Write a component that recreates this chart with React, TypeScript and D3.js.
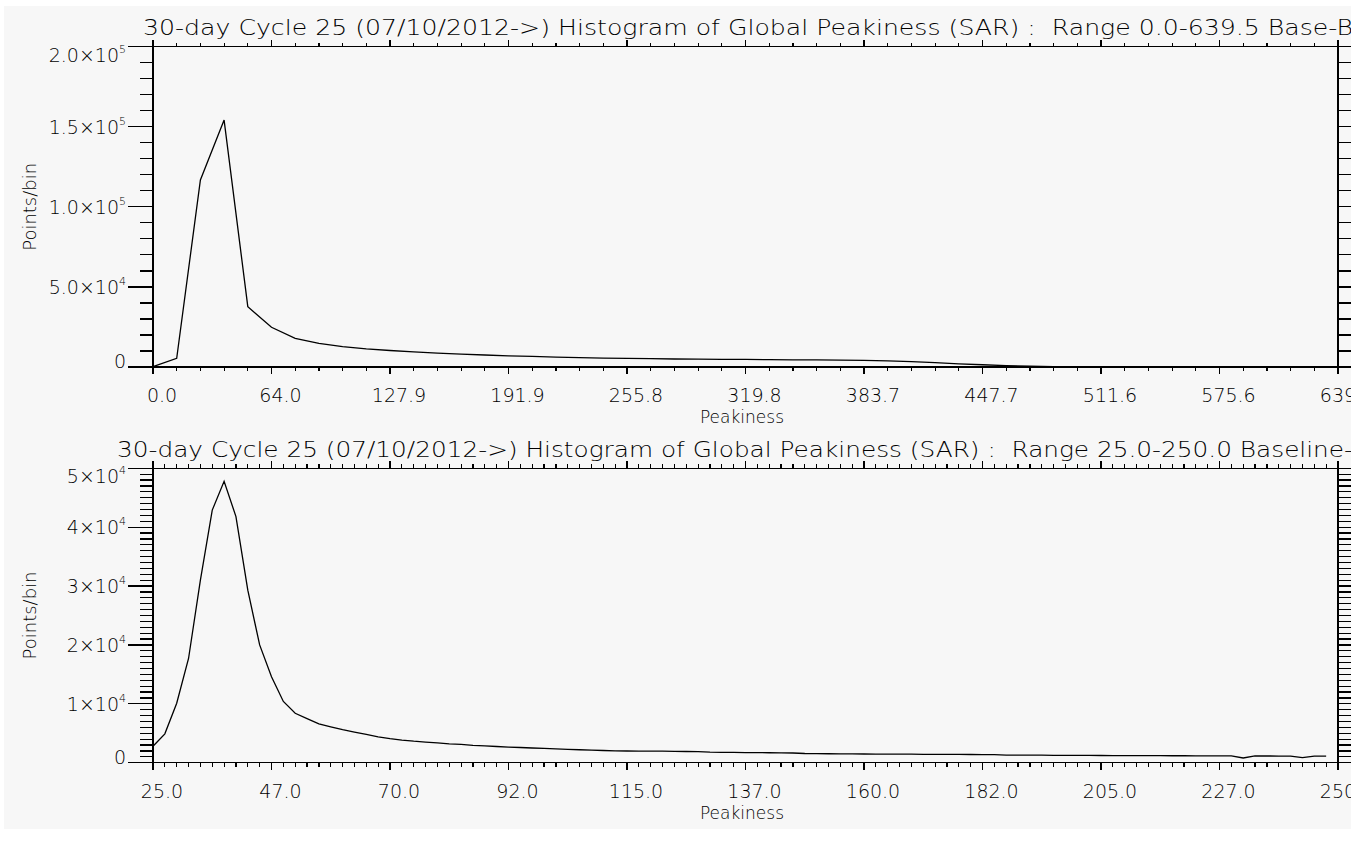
import React from "react";
import * as d3 from "d3";

// ---------- DATA ----------
const titleTop =
  "30-day Cycle 25 (07/10/2012->) Histogram of Global Peakiness (SAR) :  Range 0.0-639.5 Base-B";
const titleBottom =
  "30-day Cycle 25 (07/10/2012->) Histogram of Global Peakiness (SAR) :  Range 25.0-250.0 Baseline-";
const xAxisTitle = "Peakiness";
const yAxisTitle = "Points/bin";

// Top histogram: 0.0 - 639.5, bin width 12.79
const topXMin = 0;
const topXMax = 639.5;
const topBinWidth = 12.79;
const topCounts = [
  300, 5400, 116800, 154200, 37700, 24800, 17900, 14800, 12700, 11300,
  10300, 9500, 8700, 8000, 7500, 7000, 6600, 6200, 5900, 5600,
  5400, 5200, 5000, 4900, 4800, 4700, 4600, 4500, 4400, 4300,
  4100, 3800, 3300, 2700, 2000, 1400, 900, 500, 200, 0,
  0, 0, 0, 0, 0, 0, 0, 0, 0, 0,
];
const topYMax = 200000;
const topXTicks = [0, 63.95, 127.9, 191.85, 255.8, 319.75, 383.7, 447.65, 511.6, 575.55, 639.5];
const topXTickLabels = ["0.0", "64.0", "127.9", "191.9", "255.8", "319.8", "383.7", "447.7", "511.6", "575.6", "639.5"];
const topXMinorStep = 12.79;
const topYTicks = [0, 50000, 100000, 150000, 200000];
const topYTickMantissa = ["0", "5.0×10", "1.0×10", "1.5×10", "2.0×10"];
const topYTickExponent = ["", "4", "5", "5", "5"];
const topYMinorStep = 10000;

// Bottom histogram: 25.0 - 250.0, bin width 2.25
const botXMin = 25;
const botXMax = 250;
const botBinWidth = 2.25;
const botCounts = [
  2800, 4900, 10100, 17700, 31000, 42900, 47800, 41800, 29300, 20000,
  14600, 10400, 8400, 7500, 6600, 6100, 5600, 5200, 4800, 4400,
  4100, 3850, 3650, 3500, 3350, 3200, 3100, 2950, 2850, 2750,
  2650, 2580, 2500, 2430, 2350, 2280, 2200, 2130, 2070, 2020,
  1990, 1980, 1960, 1950, 1930, 1900, 1870, 1780, 1760, 1740,
  1720, 1700, 1690, 1670, 1650, 1560, 1540, 1520, 1500, 1490,
  1480, 1470, 1460, 1450, 1440, 1430, 1420, 1410, 1400, 1390,
  1380, 1370, 1300, 1290, 1280, 1270, 1260, 1250, 1240, 1230,
  1220, 1210, 1200, 1200, 1190, 1190, 1180, 1180, 1170, 1170,
  1160, 1150, 800, 1150, 1140, 1130, 1120, 850, 1110, 1100,
];
const botYMax = 50000;
const botXTicks = [25, 47.5, 70, 92.5, 115, 137.5, 160, 182.5, 205, 227.5, 250];
const botXTickLabels = ["25.0", "47.0", "70.0", "92.0", "115.0", "137.0", "160.0", "182.0", "205.0", "227.0", "250.0"];
const botXMinorStep = 2.25;
const botYTicks = [0, 10000, 20000, 30000, 40000, 50000];
const botYTickMantissa = ["0", "1×10", "2×10", "3×10", "4×10", "5×10"];
const botYTickExponent = ["", "4", "4", "4", "4", "4"];
const botYMinorStep = 1000;

// ---------- STYLE ----------
const FONT = "'DejaVu Sans', 'Noto Sans', sans-serif";
const FW = 300;
const INK = "#000";
const BG = "#f7f7f7";

type PanelProps = {
  left: number;
  right: number;
  top: number;
  bottom: number;
  title: string;
  titleX: number;
  titleLen: number;
  xMin: number;
  xMax: number;
  yMax: number;
  binWidth: number;
  counts: number[];
  xTicks: number[];
  xTickLabels: string[];
  xMinorStep: number;
  yTicks: number[];
  yMant: string[];
  yExp: string[];
  yMinorStep: number;
};

function Panel(p: PanelProps) {
  const x = d3.scaleLinear().domain([p.xMin, p.xMax]).range([p.left, p.right]);
  const y = d3.scaleLinear().domain([0, p.yMax]).range([p.bottom, p.top]);
  const pts = p.counts.map((c, i) => [p.xMin + i * p.binWidth, c] as [number, number]);
  const line = d3
    .line<[number, number]>()
    .x((d) => x(d[0]))
    .y((d) => y(d[1]));

  const xMinor = d3.range(p.xMin, p.xMax + 1e-6, p.xMinorStep);
  const yMinor = d3.range(0, p.yMax + 1e-6, p.yMinorStep);
  const xMajLen = 7;
  const xMinLen = 4;
  const yMajLen = 25;
  const yMinLen = 13;

  return (
    <g>
      <rect
        x={p.left}
        y={p.top}
        width={p.right - p.left}
        height={p.bottom - p.top}
        fill="none"
        stroke={INK}
        strokeWidth={1.2}
        shapeRendering="crispEdges"
      />
      {xMinor.map((t, i) => (
        <g key={"xm" + i}>
          <line x1={x(t)} x2={x(t)} y1={p.bottom} y2={p.bottom + xMinLen} stroke={INK} strokeWidth={1.2} shapeRendering="crispEdges" />
          <line x1={x(t)} x2={x(t)} y1={p.top} y2={p.top - xMinLen} stroke={INK} strokeWidth={1.2} shapeRendering="crispEdges" />
        </g>
      ))}
      {p.xTicks.map((t, i) => (
        <g key={"xM" + i}>
          <line x1={x(t)} x2={x(t)} y1={p.bottom} y2={p.bottom + xMajLen} stroke={INK} strokeWidth={1.2} shapeRendering="crispEdges" />
          <line x1={x(t)} x2={x(t)} y1={p.top} y2={p.top - xMajLen} stroke={INK} strokeWidth={1.2} shapeRendering="crispEdges" />
          <text x={x(t) + 9} y={p.bottom + 35} textAnchor="middle" fontSize={19} fontWeight={FW} fontFamily={FONT} fill={INK}>
            {p.xTickLabels[i]}
          </text>
        </g>
      ))}
      {yMinor.map((t, i) => (
        <g key={"ym" + i}>
          <line x1={p.left} x2={p.left - yMinLen} y1={y(t)} y2={y(t)} stroke={INK} strokeWidth={1.2} shapeRendering="crispEdges" />
          <line x1={p.right} x2={p.right + yMinLen} y1={y(t)} y2={y(t)} stroke={INK} strokeWidth={1.2} shapeRendering="crispEdges" />
        </g>
      ))}
      {p.yTicks.map((t, i) => {
        const c = Math.max(p.top + 8, Math.min(p.bottom - 6, y(t)));
        return (
          <g key={"yM" + i}>
            <line x1={p.left} x2={p.left - yMajLen} y1={y(t)} y2={y(t)} stroke={INK} strokeWidth={1.2} shapeRendering="crispEdges" />
            <line x1={p.right} x2={p.right + yMajLen} y1={y(t)} y2={y(t)} stroke={INK} strokeWidth={1.2} shapeRendering="crispEdges" />
            <text x={126} y={c + 7} textAnchor="end" fontSize={19} fontWeight={FW} fontFamily={FONT} fill={INK}>
              {p.yMant[i]}
              {p.yExp[i] ? (
                <tspan fontSize={11} dy={-9}>
                  {p.yExp[i]}
                </tspan>
              ) : null}
            </text>
          </g>
        );
      })}
      <path d={line(pts) || ""} fill="none" stroke={INK} strokeWidth={1.3} strokeLinejoin="miter" />
      <text
        x={p.titleX}
        y={p.top - 11.5}
        fontSize={21}
        fontWeight={FW}
        fontFamily={FONT}
        fill={INK}
        textLength={p.titleLen}
        lengthAdjust="spacingAndGlyphs"
        style={{ whiteSpace: "pre" }}
      >
        {p.title}
      </text>
      <text x={742} y={p.bottom + 56} textAnchor="middle" fontSize={17} fontWeight={FW} fontFamily={FONT} fill={INK}>
        {xAxisTitle}
      </text>
      <text
        transform={`translate(36,${(p.top + p.bottom) / 2}) rotate(-90)`}
        textAnchor="middle"
        fontSize={18}
        fontWeight={FW}
        fontFamily={FONT}
        fill={INK}
      >
        {yAxisTitle}
      </text>
    </g>
  );
}

export default function App() {
  return (
    <div style={{ position: "absolute", left: 0, top: 0 }}>
      <svg width={1368} height={844} style={{ display: "block", background: "#fff" }}>
        <defs>
          <clipPath id="panelClip">
            <rect x={4} y={6} width={1347} height={823} />
          </clipPath>
        </defs>
        <rect x={4} y={6} width={1347} height={823} fill={BG} />
        <g clipPath="url(#panelClip)">
          <Panel
            left={153}
            right={1338}
            top={46.7}
            bottom={367}
            title={titleTop}
            titleX={143}
            titleLen={1210}
            xMin={topXMin}
            xMax={topXMax}
            yMax={topYMax}
            binWidth={topBinWidth}
            counts={topCounts}
            xTicks={topXTicks}
            xTickLabels={topXTickLabels}
            xMinorStep={topXMinorStep}
            yTicks={topYTicks}
            yMant={topYTickMantissa}
            yExp={topYTickExponent}
            yMinorStep={topYMinorStep}
          />
          <Panel
            left={153}
            right={1338}
            top={468.3}
            bottom={762.7}
            title={titleBottom}
            titleX={117}
            titleLen={1236}
            xMin={botXMin}
            xMax={botXMax}
            yMax={botYMax}
            binWidth={botBinWidth}
            counts={botCounts}
            xTicks={botXTicks}
            xTickLabels={botXTickLabels}
            xMinorStep={botXMinorStep}
            yTicks={botYTicks}
            yMant={botYTickMantissa}
            yExp={botYTickExponent}
            yMinorStep={botYMinorStep}
          />
        </g>
      </svg>
    </div>
  );
}
